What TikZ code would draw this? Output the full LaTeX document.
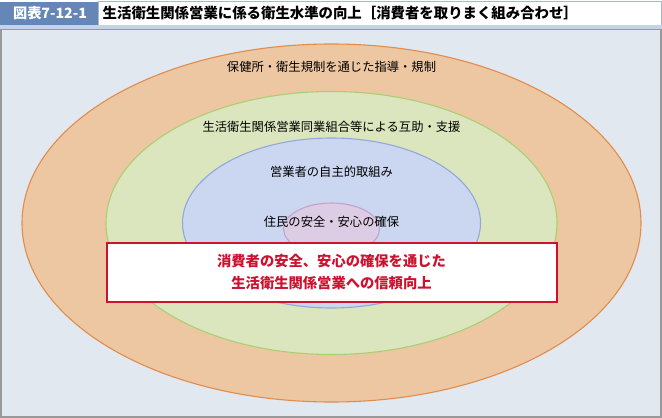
\documentclass[tikz,border=0pt]{standalone}
\usepackage{fontspec}
\setmainfont{Noto Sans CJK JP}
\usetikzlibrary{positioning}
\definecolor{panelbg}{HTML}{E1E8EF}
\definecolor{tabblue}{HTML}{6487B8}
\definecolor{striplight}{HTML}{C3D4E8}
\definecolor{titleline}{HTML}{A8B8CC}
\definecolor{outerfill}{HTML}{EDC7A1}
\definecolor{outerline}{HTML}{E28C4C}
\definecolor{greenfill}{HTML}{DCE6BE}
\definecolor{greenline}{HTML}{AACF72}
\definecolor{bluefill}{HTML}{CBD7F0}
\definecolor{blueline}{HTML}{90A9DA}
\definecolor{pinkfill}{HTML}{DCCDE4}
\definecolor{pinkline}{HTML}{C3A2D0}
\definecolor{goalred}{HTML}{CD1230}
\tikzset{
  ringtext/.style={font=\fontsize{12.3}{12.3}\selectfont, text=black, inner sep=0pt},
  ring/.style={line width=1.1pt}
}
\begin{document}
\begin{tikzpicture}[x=1pt,y=-1pt]
  \def\cx{331.5}
  \def\cy{223}
  \useasboundingbox (0,0) rectangle (662,418);

  \fill[tabblue] (0,2) rectangle (98,25);
  \draw[titleline, fill=white] (98,1.5) rectangle (661,25);
  \fill[striplight] (0,25) rectangle (662,28.5);
  \node[font=\bfseries\fontsize{14.2}{14.2}\selectfont, text=white, inner sep=0pt] (tab) at (50,13.5) {図表7-12-1};
  \node[anchor=west, font=\bfseries\fontsize{14.4}{14.4}\selectfont, inner sep=0pt] (title) at (102.5,13.5) {生活衛生関係営業に係る衛生水準の向上［消費者を取りまく組み合わせ］};

  \draw[line width=1.2pt, black!40, fill=panelbg] (1,29.5) rectangle (661,417);

  \draw[ring, outerline, fill=outerfill] (\cx,\cy) ellipse [x radius=309.5pt, y radius=179pt];
  \draw[ring, greenline, fill=greenfill] (\cx,\cy) ellipse [x radius=225.5pt, y radius=131.5pt];
  \draw[ring, blueline, fill=bluefill] (\cx,\cy) ellipse [x radius=149pt, y radius=85pt];
  \draw[ring, pinkline, fill=pinkfill] (\cx,229) ellipse [x radius=48pt, y radius=26pt];

  \node[ringtext] (guide) at (\cx,67) {保健所・衛生規制を通じた指導・規制};
  \node[ringtext] (union) at (\cx,127) {生活衛生関係営業同業組合等による互助・支援};
  \node[ringtext] (self) at (\cx,172) {営業者の自主的取組み};
  \node[ringtext] (safety) at (\cx,222) {住民の安全・安心の確保};

  \node[draw=goalred, line width=2pt, fill=white, minimum width=450pt, minimum height=59pt,
        font=\bfseries\fontsize{14.3}{22}\selectfont, text=goalred, align=center] (goal) at (\cx,272)
        {消費者の安全、安心の確保を通じた\\生活衛生関係営業への信頼向上};
\end{tikzpicture}
\end{document}
